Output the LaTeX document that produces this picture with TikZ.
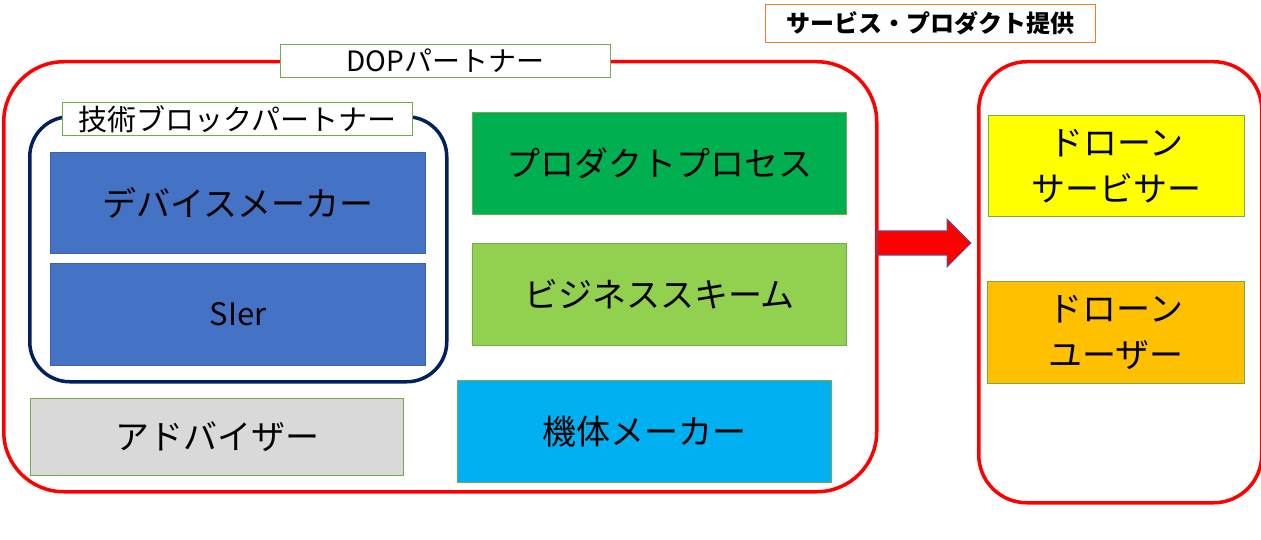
\documentclass[tikz,border=0pt]{standalone}
\usepackage{fontspec}
\setmainfont{Noto Sans CJK JP}
\definecolor{dopred}{HTML}{FF0000}
\definecolor{navyb}{HTML}{002060}
\definecolor{lblgreen}{HTML}{70AD47}
\definecolor{boxblue}{HTML}{4472C4}
\definecolor{boxblueb}{HTML}{3A62AA}
\definecolor{boxgreen}{HTML}{00B050}
\definecolor{boxlime}{HTML}{92D050}
\definecolor{boxcyan}{HTML}{00B0F0}
\definecolor{boxgray}{HTML}{D9D9D9}
\definecolor{boxyellow}{HTML}{FFFF00}
\definecolor{boxorange}{HTML}{FFC000}
\definecolor{lblorange}{HTML}{ED7D31}
\definecolor{arrowb}{HTML}{4A5A9A}
\begin{document}
\begin{tikzpicture}[x=1pt,y=-1pt,
  container/.style={draw=dopred, line width=3.5pt, rounded corners=#1, anchor=north west, inner sep=0pt},
  label/.style={draw=lblgreen, line width=1pt, fill=white, anchor=north west, inner sep=0pt, font=\fontsize{28}{32}\selectfont},
  block/.style={draw=lblgreen, line width=1pt, anchor=north west, inner sep=0pt, align=center, font=\fontsize{34}{46}\selectfont},
  blockarrow/.style={draw=arrowb, fill=dopred, line width=1pt},
]
\useasboundingbox (0,0) rectangle (1261,540);
% containers
\node[container=60pt, minimum width=873pt, minimum height=430pt] (dop) at (2,60) {};
\node[container=48pt, minimum width=283pt, minimum height=441pt] (users) at (977,60) {};
\node[container=40pt, draw=navyb, minimum width=417pt, minimum height=265pt] (tech) at (28,115) {};
% labels
\node[label, minimum width=330pt, minimum height=33pt] (doplbl) at (280,44) {DOPパートナー};
\node[label, minimum width=350pt, minimum height=33pt, font=\fontsize{29}{32}\selectfont] (techlbl) at (62,102) {技術ブロックパートナー};
\node[label, draw=lblorange, minimum width=330pt, minimum height=38pt, font=\bfseries\fontsize{24}{28}\selectfont] (svclbl) at (765,4) {サービス・プロダクト提供};
% blocks
\node[block, draw=boxblueb, fill=boxblue, minimum width=375pt, minimum height=101pt] (device) at (50,152) {デバイスメーカー};
\node[block, draw=boxblueb, fill=boxblue, minimum width=375pt, minimum height=102pt, font=\fontsize{31}{36}\selectfont] (sier) at (50,263) {SIer};
\node[block, fill=boxgray, minimum width=373pt, minimum height=77pt] (adv) at (30,398) {アドバイザー};
\node[block, fill=boxgreen, minimum width=374pt, minimum height=102pt] (proc) at (472,112) {プロダクトプロセス};
\node[block, fill=boxlime, minimum width=374pt, minimum height=102pt] (biz) at (472,243) {ビジネススキーム};
\node[block, fill=boxcyan, minimum width=374pt, minimum height=102pt] (frame) at (457,380) {機体メーカー};
\node[block, fill=boxyellow, minimum width=256pt, minimum height=101pt] (servicer) at (988,115) {ドローン\\サービサー};
\node[block, fill=boxorange, minimum width=257pt, minimum height=102pt] (user) at (987,281) {ドローン\\ユーザー};
% block arrow
\draw[blockarrow] (877,231) -- (947,231) -- (947,219) -- (971,243) -- (947,267) -- (947,255) -- (877,255) -- cycle;
\end{tikzpicture}
\end{document}
